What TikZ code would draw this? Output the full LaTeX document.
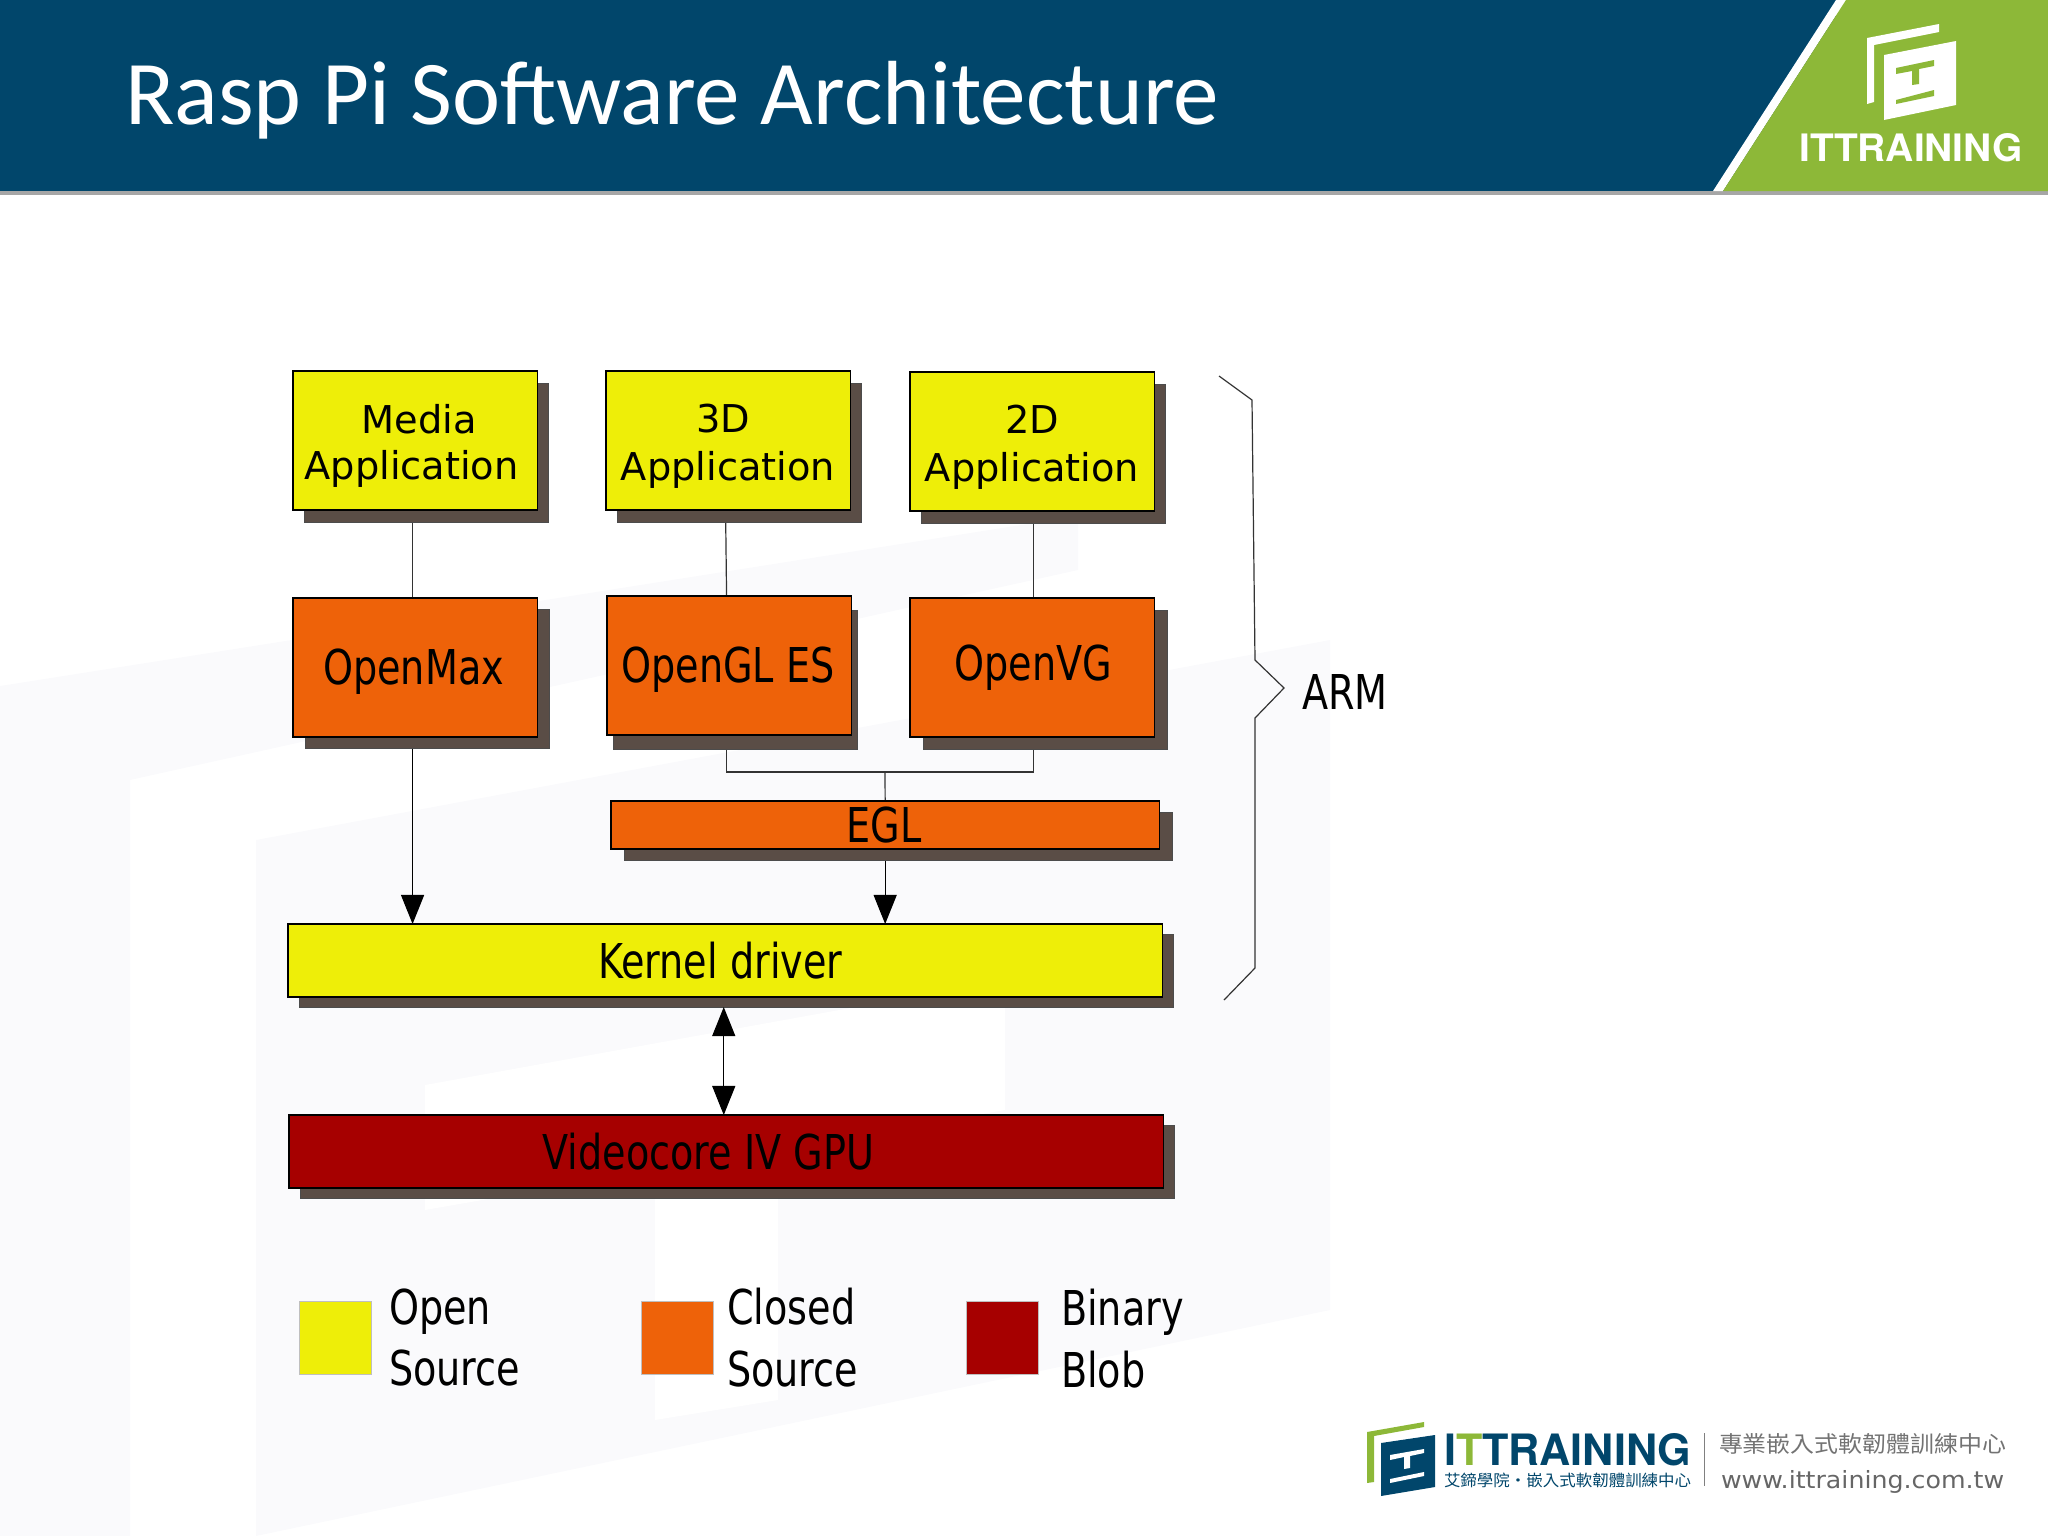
\documentclass[tikz,border=0pt]{standalone}
\usepackage{fontspec}
\usepackage{graphicx}
\usetikzlibrary{positioning,shadows,arrows.meta,backgrounds}
\setmainfont{DejaVu Sans}
\newfontfamily\narrowfont{DejaVu Sans}[FakeStretch=0.795]
\newfontfamily\titlefont{Carlito}
\newfontfamily\brandfont{TeX Gyre Heros}
\newfontfamily\cjkfont{Noto Sans CJK TC}
\newcommand{\boxstrut}{\rule{0pt}{.4cm}}
\newcommand{\libstrut}{\rule{0pt}{.44cm}}
\definecolor{bannerblue}{HTML}{01466B}
\definecolor{logogreen}{HTML}{8DB838}
\definecolor{openyellow}{HTML}{EEEE08}
\definecolor{closedorange}{HTML}{EE6209}
\definecolor{blobred}{HTML}{A60000}
\definecolor{shadowbrown}{HTML}{5A4D46}
\definecolor{markgray}{HTML}{FAFAFC}
\tikzset{
    every node/.style={inner sep=0pt,outer sep=0pt},
    boxshadow/.style 2 args={general shadow={shadow xshift=#1,shadow yshift=#2,fill=shadowbrown,draw=black!70,line width=.01cm}},
    archbox/.style={anchor=north west,draw=black,line width=.012cm,align=center,text=black,
        font=\fontsize{13.65}{15}\selectfont\narrowfont},
    appbox/.style={archbox,boxshadow={.115cm}{-.12cm},fill=openyellow,minimum width=2.44cm,minimum height=1.39cm,
        font=\fontsize{10.9}{12.9}\selectfont},
    libbox/.style={archbox,fill=closedorange,minimum width=2.44cm,minimum height=1.39cm},
    widebox/.style={archbox,boxshadow={.11cm}{-.1cm},minimum width=8.74cm,minimum height=.73cm},
    keybox/.style={anchor=north west,minimum width=.72cm,minimum height=.73cm,draw=black!25,line width=.005cm},
    keytext/.style={anchor=west,align=left,font=\fontsize{13.65}{17.4}\selectfont\narrowfont},
    link/.style={draw=black!80,line width=.012cm},
    tip/.style={link,-{Triangle[length=.29cm,width=.23cm]},black},
    bothtip/.style={link,{Triangle[length=.29cm,width=.23cm]}-{Triangle[length=.29cm,width=.23cm]},black},
}
\begin{document}
\begin{tikzpicture}[x=.01cm,y=-.01cm]
\useasboundingbox (0,0) rectangle (2048,1536);

% header band
\fill[black!35] (0,190) rectangle (2048,195);
\fill[bannerblue] (0,0) rectangle (1836,191) ;
\fill[white] (1836,0) -- (1713,191) -- (1723,191) -- (1846,0) -- cycle;
\fill[logogreen] (1846,0) -- (1723,191) -- (2048,191) -- (2048,0) -- cycle;
\node[anchor=base west,text=white,font=\fontsize{25.9}{28}\selectfont\titlefont] (title) at (125,124) {Rasp Pi Software Architecture};

% logo in the header
\fill[white] (1867,38) -- (1939,24) -- (1939,32) -- (1874,45) -- (1874,102) -- (1867,104) -- cycle;
\fill[white] (1884,55) -- (1956,41) -- (1956,105) -- (1884,120) -- cycle;
\fill[logogreen] (1896,68) -- (1934,60) -- (1934,66) -- (1919,69) -- (1919,84) -- (1912,85) -- (1912,71) -- (1896,74) -- cycle;
\fill[logogreen] (1896,100) -- (1934,90) -- (1934,96) -- (1896,104) -- cycle;
\node[text=white,font=\bfseries\brandfont] (brand) at (1911,148) {\resizebox{2.23cm}{.28cm}{ITTRAINING}};

% boxes
\node[appbox] (media) at (293,371) {\boxstrut\hspace*{.08cm}Media\\Application\hspace{.07cm}\mbox{}};
\node[appbox] (threed) at (606,371) {\boxstrut 3D\hspace{.1cm}\mbox{}\\[.03cm]Application};
\node[appbox] (twod) at (910,372) {\boxstrut 2D\\[.03cm]Application};
\node[libbox,boxshadow={.125cm}{-.11cm}] (openmax) at (293,598) {\libstrut OpenMax\hspace{.03cm}\mbox{}};
\node[libbox,boxshadow={.06cm}{-.14cm}] (opengl) at (607,596) {\libstrut OpenGL ES\hspace{.02cm}\mbox{}};
\node[libbox,boxshadow={.13cm}{-.12cm}] (openvg) at (910,598) {\hspace{.02cm}OpenVG};
\node[archbox,fill=closedorange,minimum width=5.48cm,minimum height=.48cm,boxshadow={.135cm}{-.115cm}] (egl) at (611,801) {EGL\hspace{.02cm}\mbox{}};
\node[widebox,fill=openyellow] (kernel) at (288,924) {Kernel driver\hspace{.1cm}\mbox{}};
\node[widebox,fill=blobred] (gpu) at (289,1115) {Videocore IV GPU\hspace{.36cm}\mbox{}};

% connectors under the boxes
\coordinate (joint) at (885,772);
\begin{scope}[on background layer]
    % faint mark behind the slide
    \fill[markgray] (0,686) -- (1078,516) -- (1078,570) -- (130,780) -- (130,1536) -- (0,1536) -- cycle;
    \fill[markgray] (256,840) -- (1330,640) -- (1330,1310) -- (256,1536) -- cycle;
    \fill[white] (425,1085) -- (1005,980) -- (1005,1110) -- (778,1150) -- (778,1400) -- (655,1420) -- (655,1170) -- (425,1210) -- cycle;
    \draw[link] ([xshift=-.025cm]media.south) -- ([xshift=-.025cm]openmax.north);
    \draw[link] ([xshift=-.025cm]threed.south) -- ([xshift=-.025cm]opengl.north);
    \draw[link] ([xshift=.015cm]twod.south) -- ([xshift=.015cm]openvg.north);
    \draw[link] ([xshift=-.025cm]opengl.south) |- (joint) -| ([xshift=.015cm]openvg.south);
    \draw[link] (joint) -- (egl.north);
\end{scope}
\draw[tip,shorten <=.12cm] ([xshift=-.025cm]openmax.south) -- ([xshift=-.025cm]openmax.south |- kernel.north);
\draw[tip,shorten <=.12cm] (egl.south) -- (egl.south |- kernel.north);
\draw[bothtip,shorten <=.1cm] ([xshift=-.015cm]kernel.south) -- ([xshift=-.015cm]kernel.south |- gpu.north);

% the bracket and its label
\coordinate (bracetop) at (1219,376);
\coordinate (bracetip) at (1284,688);
\coordinate (braceend) at (1224,1000);
\draw[link] (bracetop) -- (1252,400) -- (1255,660) -- (bracetip) -- (1255,718) -- (1255,968) -- (braceend);
\node[keytext,right=.18cm of bracetip,yshift=-.035cm] (arm) {ARM};

% legend
\node[keybox,fill=openyellow] (openkey) at (299,1301) {};
\node[keytext,right=.18cm of openkey] (opentext) {Open\\Source};
\node[keybox,fill=closedorange] (closedkey) at (641,1301) {};
\node[keytext,right=.14cm of closedkey] (closedtext) {Closed\\Source};
\node[keybox,fill=blobred] (blobkey) at (966,1301) {};
\node[keytext,right=.23cm of blobkey,yshift=-.01cm] (blobtext) {Binary\\Blob};

% logo in the corner
\fill[logogreen] (1367,1432) -- (1424,1422) -- (1424,1427) -- (1374,1436) -- (1374,1482) -- (1367,1483) -- cycle;
\fill[bannerblue] (1381,1443) -- (1435,1435) -- (1435,1487) -- (1381,1496) -- cycle;
\fill[white] (1390,1455) -- (1424,1449) -- (1424,1453) -- (1410,1456) -- (1410,1468) -- (1404,1469) -- (1404,1457) -- (1390,1460) -- cycle;
\fill[white] (1390,1479) -- (1424,1472) -- (1424,1476) -- (1390,1483) -- cycle;
\node[anchor=north west,font=\bfseries\brandfont] (cornerbrand) at (1444,1433) {\resizebox{2.47cm}{.32cm}{\textcolor{bannerblue}{I}\textcolor{logogreen}{T}\textcolor{bannerblue}{TRAINING}}};
\node[anchor=north west,text=bannerblue] (cornercn) at (1444,1473) {\resizebox{2.47cm}{.135cm}{\cjkfont 艾鍗學院‧嵌入式軟韌體訓練中心}};
\draw[black!50,line width=.01cm] (1704,1433) -- (1704,1486);
\node[anchor=north west,text=black!55] (cornerslogan) at (1719,1433) {\resizebox{2.87cm}{.19cm}{\cjkfont 專業嵌入式軟韌體訓練中心}};
\node[anchor=north west,text=black!60] (cornerurl) at (1721,1470) {\resizebox{2.83cm}{.18cm}{www.ittraining.com.tw}};
\end{tikzpicture}
\end{document}
